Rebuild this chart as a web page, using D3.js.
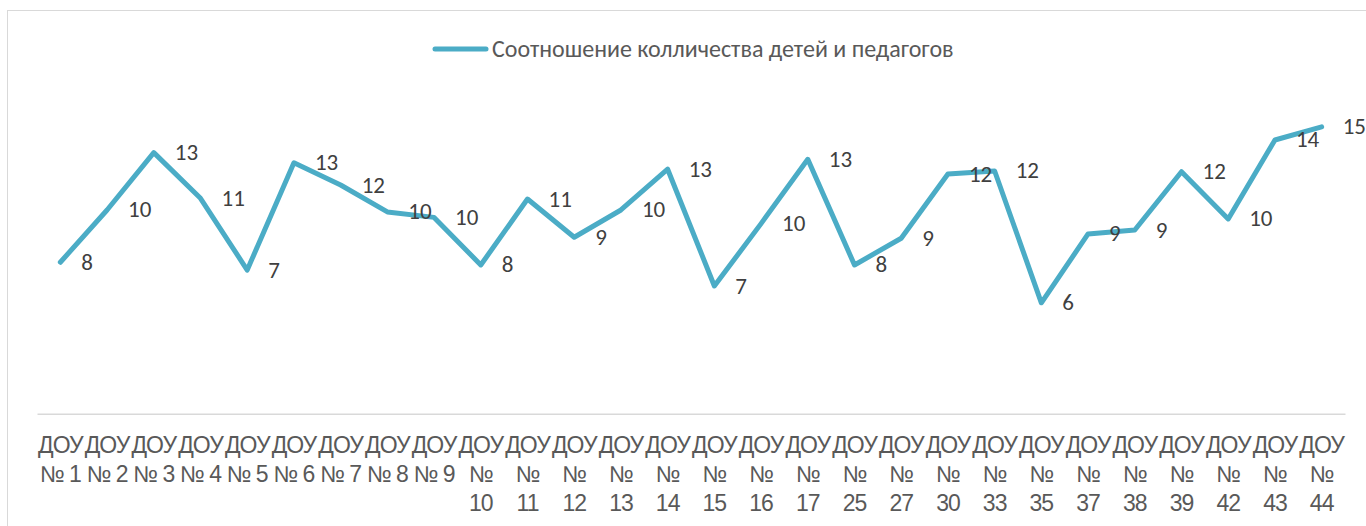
<!DOCTYPE html>
<html>
<head>
<meta charset="utf-8">
<script src="https://cdn.jsdelivr.net/npm/d3@7"></script>
<style>
  body { margin: 0; background: #fff; }
  svg { display: block; font-family: Carlito, Calibri, Lato, "Noto Sans", sans-serif; }
</style>
</head>
<body>
<div class="container"></div>
<script>
var categories = ["ДОУ № 1", "ДОУ № 2", "ДОУ № 3", "ДОУ № 4", "ДОУ № 5", "ДОУ № 6", "ДОУ № 7",
	"ДОУ № 8", "ДОУ № 9", "ДОУ № 10", "ДОУ № 11", "ДОУ № 12", "ДОУ № 13", "ДОУ № 14",
	"ДОУ № 15", "ДОУ № 16", "ДОУ № 17", "ДОУ № 25", "ДОУ № 27", "ДОУ № 30", "ДОУ № 33",
	"ДОУ № 35", "ДОУ № 37", "ДОУ № 38", "ДОУ № 39", "ДОУ № 42", "ДОУ № 43", "ДОУ № 44"];
var ratio = [7.77, 10.45, 13.39, 11.05, 7.37, 12.87, 11.73, 10.35, 10.07, 7.63, 11.01, 9.05, 10.45, 12.54,
	6.55, 9.75, 13.05, 7.63, 9.0, 12.29, 12.45, 5.69, 9.22, 9.42, 12.41, 9.99, 14.04, 14.71];
var seriesName = "Соотношение колличества детей и педагогов";
var yDomain = [0, 16];

var charter = function () {
	var width = 1366, height = 526;
	var lineColor = "#4bacc6";
	var fontSize = 23;

	var init = function () {
		var paper = d3.select(".container").append("svg")
			.attr("width", width)
			.attr("height", height);

		// chart frame (runs off the right and bottom edges)
		paper.append("rect")
			.attr("x", 7.5).attr("y", 10.5)
			.attr("width", width + 20).attr("height", height + 20)
			.attr("fill", "none")
			.attr("stroke", "#d9d9d9");

		var x = d3.scaleBand().domain(categories).range([37, 1345]);
		var y = d3.scaleLinear().domain(yDomain).range([413.75, 101.75]);

		// category axis
		var axis = paper.append("g")
			.attr("transform", "translate(0," + y(0) + ")")
			.call(d3.axisBottom(x).tickSize(0).tickPadding(0));
		axis.select(".domain").attr("stroke", "#d9d9d9").attr("stroke-width", 1.5);
		axis.selectAll(".tick text")
			.attr("fill", "#595959")
			.attr("font-size", fontSize)
			.attr("letter-spacing", -1)
			.attr("font-family", null)
			.attr("dy", null)
			.call(wrap, x.bandwidth());

		// the line
		var line = d3.line()
			.x(function (d, i) { return x(categories[i]) + x.bandwidth() / 2; })
			.y(function (d) { return y(d); });

		paper.append("path")
			.datum(ratio)
			.attr("d", line)
			.attr("fill", "none")
			.attr("stroke", lineColor)
			.attr("stroke-width", 5)
			.attr("stroke-linejoin", "round")
			.attr("stroke-linecap", "round");

		// data labels, right of each point
		paper.selectAll(".lbl")
			.data(ratio)
			.enter().append("text")
			.attr("class", "lbl")
			.attr("x", function (d, i) { return x(categories[i]) + x.bandwidth() / 2 + 21; })
			.attr("y", function (d) { return y(d) + 7.5; })
			.attr("font-size", fontSize)
			.attr("fill", "#404040")
			.text(function (d) { return d3.format(".0f")(d); });

		// legend
		var legend = paper.append("g");
		legend.append("line")
			.attr("x1", 435).attr("x2", 486)
			.attr("y1", 49).attr("y2", 49)
			.attr("stroke", lineColor)
			.attr("stroke-width", 5)
			.attr("stroke-linecap", "round");
		legend.append("text")
			.attr("x", 492).attr("y", 57)
			.attr("font-size", 24)
			.attr("fill", "#595959")
			.text(seriesName);
	};

	// break tick labels into lines that fit the category width
	var wrap = function (texts, w) {
		texts.each(function () {
			var text = d3.select(this);
			var words = text.text().split(" ");
			text.text(null);
			var lines = [], cur = [];
			var probe = text.append("tspan");
			words.forEach(function (word) {
				var tryLine = cur.concat([word]).join(" ");
				probe.text(tryLine);
				if (cur.length && probe.node().getComputedTextLength() > w) {
					lines.push(cur.join(" "));
					cur = [word];
				} else {
					cur.push(word);
				}
			});
			lines.push(cur.join(" "));
			probe.remove();
			lines.forEach(function (l, i) {
				text.append("tspan")
					.attr("x", 0)
					.attr("y", 39 + i * 29)
					.text(l);
			});
		});
	};

	return Object.freeze({ init: init });
};

var c = charter();
c.init();
</script>
</body>
</html>
